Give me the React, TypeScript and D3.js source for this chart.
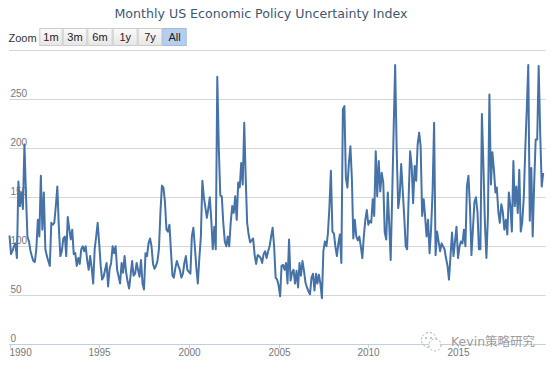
import React from "react";
import * as d3 from "d3";

const startYear = 1990;
const values1990s = [
  111, 92, 95, 100, 103, 88, 166, 141, 155, 138, 204, 155,
  110, 105, 96, 90, 85, 84, 97, 127, 110, 172, 117, 155,
  97, 90, 85, 80, 124, 122, 124, 141, 161, 120, 90, 95,
  108, 110, 90, 130, 118, 107, 117, 92, 93, 80, 88, 82,
  97, 100, 95, 100, 86, 76, 90, 78, 62, 97, 110, 124,
  103, 80, 66, 69, 76, 83, 59, 77, 83, 100, 93, 100,
  76, 69, 62, 83, 73, 90, 74, 64, 57, 70, 85, 70,
  72, 83, 76, 69, 86, 62, 56, 93, 90, 103, 108, 100,
  82, 77, 80, 85, 97, 135, 162, 160, 145, 117, 115, 122,
  95, 70, 68, 78, 85, 80, 76, 68, 72, 83, 90, 76,
];
const values2000s = [
  74, 72, 110, 119, 100, 78, 62, 88, 110, 167, 150, 140,
  129, 139, 150, 127, 97, 120, 97, 273, 200, 152, 151, 124,
  105, 100, 110, 100, 124, 141, 134, 151, 127, 165, 160, 185,
  163, 226, 172, 124, 112, 104, 106, 108, 91, 82, 91, 90,
  88, 83, 92, 95, 88, 95, 100, 110, 119, 100, 68, 66,
  60, 49, 80, 81, 76, 83, 62, 107, 65, 73, 76, 62,
  75, 58, 83, 70, 85, 75, 63, 58, 54, 51, 68, 72,
  55, 72, 62, 71, 62, 47, 95, 105, 100, 113, 140, 177,
  115, 113, 100, 90, 103, 112, 83, 240, 243, 170, 160, 185,
  202, 168, 108, 127, 110, 106, 110, 100, 88, 110, 127, 137,
];
const values2010s = [
  122, 126, 124, 148, 131, 197, 151, 187, 156, 175, 165, 114,
  107, 155, 124, 86, 150, 220, 285, 199, 139, 151, 184, 158,
  131, 100, 97, 150, 197, 182, 144, 182, 167, 204, 216, 202,
  131, 148, 131, 110, 127, 93, 117, 156, 226, 91, 115, 105,
  95, 103, 100, 97, 88, 80, 66, 90, 114, 90, 105, 120,
  88, 100, 105, 103, 117, 100, 161, 172, 141, 91, 118, 145,
  150, 135, 97, 97, 235, 182, 124, 88, 131, 255, 163, 196,
  178, 155, 160, 135, 124, 143, 135, 117, 127, 112, 155, 141,
  115, 187, 141, 161, 134, 178, 115, 125, 150, 199, 240, 285,
  126, 180, 110, 165, 209, 209, 284, 215, 161, 175,
];
const yTicks = [0, 50, 100, 150, 200, 250];
const xTickYears = [1990, 1995, 2000, 2005, 2010, 2015];
const zoomButtons = ["1m", "3m", "6m", "1y", "7y", "All"];
const titleText = "Monthly US Economic Policy Uncertainty Index";
const watermarkText = "Kevin策略研究";

const allValues = [...values1990s, ...values2000s, ...values2010s];
const series = allValues.map((v, i) => ({
  date: new Date(startYear + Math.floor(i / 12), i % 12, 1),
  value: v,
}));

const W = 554;
const H = 366;
const plotLeft = 9;
const plotRight = 545.7;
const smallFont = "'Liberation Sans', Arial, sans-serif";
const titleFont = "'DejaVu Sans', 'Lucida Grande', sans-serif";

export default function App() {
  const x = d3
    .scaleTime()
    .domain([series[0].date, series[series.length - 1].date])
    .range([9.5, 543.2]);
  const y = d3.scaleLinear().domain([0, 300]).range([344.3, 50.3]);
  const line = d3
    .line<{ date: Date; value: number }>()
    .x((d) => x(d.date))
    .y((d) => y(d.value));

  const btnEdges = [39.3, 62.7, 87.3, 112.7, 137.7, 162.3, 186.7];

  return (
    <svg
      width={W}
      height={H}
      style={{ position: "absolute", left: 0, top: 0, background: "#fff" }}
      fontFamily={smallFont}
    >
      <defs>
        <linearGradient id="btn" x1="0" y1="0" x2="0" y2="1">
          <stop offset="0" stopColor="#FAFAFA" />
          <stop offset="1" stopColor="#E6E6E6" />
        </linearGradient>
      </defs>
      <rect x={0} y={0} width={W} height={H} fill="#fff" />
      <text
        x={261}
        y={18}
        textAnchor="middle"
        fontSize={13}
        fill="#3E576F"
        fontFamily={titleFont}
        textLength={293}
        lengthAdjust="spacingAndGlyphs"
      >
        {titleText}
      </text>

      {/* range selector */}
      <text x={8.5} y={41.5} fontSize={11} fill="#333">Zoom</text>
      {zoomButtons.map((b, i) => {
        const x0 = btnEdges[i];
        const x1 = btnEdges[i + 1];
        const sel = b === "All";
        return (
          <g key={b}>
            <rect
              x={x0 + 0.5}
              y={28.5}
              width={x1 - x0 - 1}
              height={17}
              fill={sel ? "#B7CDEE" : "url(#btn)"}
              stroke={sel ? "#A3BCE0" : "#CCCCCC"}
              strokeWidth={1}
            />
            <text
              x={(x0 + x1) / 2}
              y={41}
              textAnchor="middle"
              fontSize={11}
              fill="#222"
            >
              {b}
            </text>
          </g>
        );
      })}

      {/* grid */}
      {[...yTicks, 300].filter((t) => t > 0).map((t) => (
        <line
          key={t}
          x1={plotLeft}
          x2={plotRight}
          y1={Math.round(y(t)) + 0.5}
          y2={Math.round(y(t)) + 0.5}
          stroke="#D6D6D6"
          strokeWidth={1}
        />
      ))}
      {yTicks.map((t) => (
        <text key={"l" + t} x={10.5} y={y(t) - 2.5} fontSize={10} fill="#777">
          {t}
        </text>
      ))}

      {/* x axis */}
      <line
        x1={plotLeft}
        x2={plotRight}
        y1={344.5}
        y2={344.5}
        stroke="#C0D0E0"
        strokeWidth={1}
      />
      {xTickYears.map((yr) => {
        const px = Math.round(x(new Date(yr, 0, 1))) + 0.5;
        return (
          <g key={yr}>
            <line x1={px} x2={px} y1={344} y2={348} stroke="#C0D0E0" />
            <text
              x={yr === 1990 ? 9.5 : px}
              y={356}
              fontSize={10}
              fill="#777"
              textAnchor={yr === 1990 ? "start" : "middle"}
            >
              {yr}
            </text>
          </g>
        );
      })}

      <path
        d={line(series) || ""}
        fill="none"
        stroke="#4572A7"
        strokeWidth={2}
        strokeLinejoin="round"
      />

      {/* watermark */}
      <g opacity={0.85}>
        <circle
          cx={429}
          cy={340}
          r={7.5}
          fill="none"
          stroke="#999"
          strokeWidth={1}
          strokeDasharray="2 2"
        />
        <circle
          cx={435}
          cy={345}
          r={6}
          fill="#fff"
          stroke="#999"
          strokeWidth={1}
          strokeDasharray="2 2"
        />
        <circle cx={426} cy={338} r={0.9} fill="#999" />
        <circle cx={431} cy={338} r={0.9} fill="#999" />
        <text
          x={451}
          y={346}
          fontSize={12.5}
          fill="#8A8A8A"
          stroke="#fff"
          strokeWidth={0.6}
          paintOrder="stroke"
          fontFamily="'DejaVu Sans', 'Noto Sans CJK SC', sans-serif"
        >
          {watermarkText}
        </text>
      </g>
    </svg>
  );
}
